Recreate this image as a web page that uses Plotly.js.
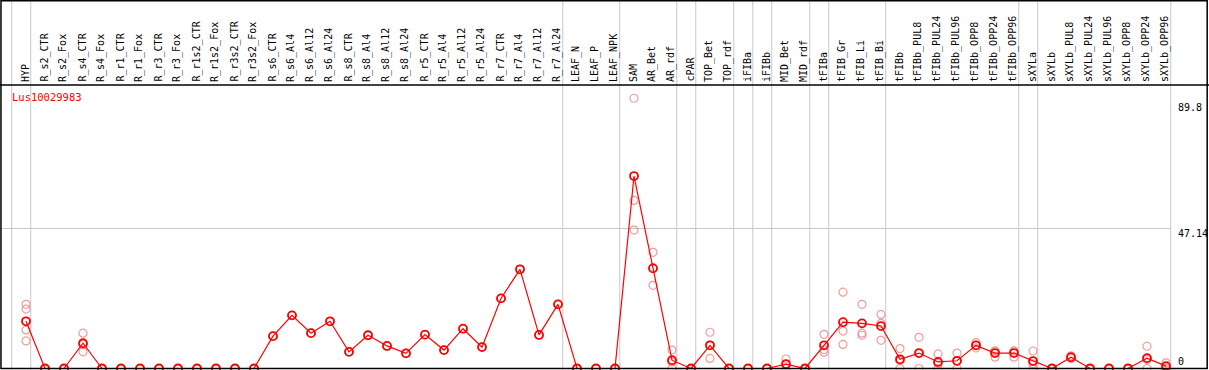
<!DOCTYPE html>
<html><head><meta charset="utf-8">
<script src="https://cdn.plot.ly/plotly-3.0.1.min.js"></script>
<style>html,body{margin:0;padding:0;background:#fff}#chart{width:1209px;height:370px}</style>
</head><body><div id="chart"></div>
<script>
var categories = ["HYP","R_s2_CTR","R_s2_Fox","R_s4_CTR","R_s4_Fox","R_r1_CTR","R_r1_Fox","R_r3_CTR","R_r3_Fox","R_r1s2_CTR","R_r1s2_Fox","R_r3s2_CTR","R_r3s2_Fox","R_s6_CTR","R_s6_Al4","R_s6_Al12","R_s6_Al24","R_s8_CTR","R_s8_Al4","R_s8_Al12","R_s8_Al24","R_r5_CTR","R_r5_Al4","R_r5_Al12","R_r5_Al24","R_r7_CTR","R_r7_Al4","R_r7_Al12","R_r7_Al24","LEAF_N","LEAF_P","LEAF_NPK","SAM","AR_Bet","AR_rdf","cPAR","TOP_Bet","TOP_rdf","iFIBa","iFIBb","MID_Bet","MID_rdf","tFIBa","tFIB_Gr","tFIB_Li","tFIB_Bi","tFIBb","tFIBb_PUL8","tFIBb_PUL24","tFIBb_PUL96","tFIBb_OPP8","tFIBb_OPP24","tFIBb_OPP96","sXYLa","sXYLb","sXYLb_PUL8","sXYLb_PUL24","sXYLb_PUL96","sXYLb_OPP8","sXYLb_OPP24","sXYLb_OPP96"];
var groupSizes = [1,28,3,3,1,2,1,1,2,1,3,7,1,7];
var meanValues = [15.9,0,0,8.5,0,0,0,0,0,0,0,0,0,10.9,17.9,11.9,15.9,5.6,11.2,7.6,5.1,11.4,6.2,13.4,7.2,23.6,33.4,11.3,21.6,0,0,0,64.8,33.7,2.8,0,7.8,0,0,0,1.5,0,7.8,15.6,15.2,14.3,3.1,5.2,2.2,2.6,7.8,5.2,5.2,2.5,0,3.8,0,0,0,3.5,0.8];
var rep1 = [21.6,0,0,11.9,0,0,0,0,0,0,0,0,0,10.9,17.9,11.9,15.9,5.6,11.2,7.6,5.1,11.4,6.2,13.4,7.2,23.6,33.4,11.3,21.6,0,0,0,91.0,39.1,6.2,0,12.2,0,0,0,3.2,0,11.5,25.7,21.6,18.2,6.7,10.5,4.9,5.2,8.7,5.9,5.9,5.9,0,4.3,0,0,0,7.5,1.9];
var rep2 = [20.0,0,0,5.6,0,0,0,0,0,0,0,0,0,null,null,null,null,null,null,null,null,null,null,null,null,null,null,null,null,0,0,0,56.6,28.0,0,0,3.4,0,0,0,0,0,5.5,12.6,11.9,15.2,0,0,0,0,6.9,3.8,3.8,0,0,3.4,0,0,0,0,0];
var rep3 = [13.0,0,0,8.0,0,0,0,0,0,0,0,0,0,null,null,null,null,null,null,null,null,null,null,null,null,null,null,null,null,0,0,0,46.6,34.0,2.2,0,7.8,0,0,0,1.3,0,6.4,8.1,11.2,9.5,2.6,5.1,1.7,2.6,7.8,5.9,5.9,1.6,0,3.7,0,0,0,3.0,0.5];
var rep4 = [9.3];
var yTickValues = [0, 47.14, 89.8];
var geneName = "Lus10029983";

var W = 1209, H = 370;
var xs = categories.map(function(c,i){return i;});
var pxPerX = 19, x0px = 26;
var xMin = -x0px/pxPerX, xMax = (W - x0px)/pxPerX;
var pxPerY = 2.97, y0px = 368.5;
var yMin = -(H - y0px)/pxPerY, yMax = y0px/pxPerY;
var headerY = (H - 85)/H;

var repX = [], repY = [];
[rep1,rep2,rep3,rep4].forEach(function(arr){
  arr.forEach(function(v,i){ if(v!==null && v!==undefined){ repX.push(i); repY.push(v);} });
});

var traces = [
  {x: repX, y: repY, type:'scatter', mode:'markers', hoverinfo:'skip',
   marker:{symbol:'circle-open', size:8, color:'rgba(235,140,140,0.85)', line:{width:1.2, color:'rgba(235,140,140,0.85)'}}},
  {x: xs, y: meanValues, type:'scatter', mode:'lines+markers', hoverinfo:'skip',
   line:{color:'#ff0000', width:1.2},
   marker:{symbol:'circle-open', size:8, color:'#ff0000', line:{width:1.8, color:'#ff0000'}}}
];

var shapes = [];
var bounds = [-1], acc = -1;
groupSizes.forEach(function(g){ acc += g; bounds.push(acc); });
bounds.forEach(function(b){
  shapes.push({type:'line', xref:'x', yref:'paper', x0:b+0.25, x1:b+0.25, y0:0, y1:1, line:{color:'#c8c8c8', width:1}, layer:'below'});
});
shapes.push({type:'line', xref:'x', yref:'y', x0:xMin, x1:categories.length-1+0.25, y0:yTickValues[1], y1:yTickValues[1], line:{color:'#c8c8c8', width:1}, layer:'below'});
shapes.push({type:'line', xref:'paper', yref:'paper', x0:0, x1:1, y0:headerY, y1:headerY, line:{color:'#000', width:1.5}});
shapes.push({type:'rect', xref:'paper', yref:'paper', x0:0.0008, x1:0.9985, y0:0.004, y1:0.998, line:{color:'#000', width:1.5}});

var annotations = categories.map(function(c,i){
  return {x:i, y:(H-84)/H, xref:'x', yref:'paper', text:c, showarrow:false, textangle:-90,
    xanchor:'center', yanchor:'bottom', xshift:-1,
    font:{family:'DejaVu Sans Mono, monospace', size:10, color:'#000'}};
});
annotations.push({x:10/W, y:(H-97)/H, xref:'paper', yref:'paper', text:geneName, showarrow:false,
  xanchor:'left', yanchor:'middle', font:{family:'DejaVu Sans Mono, monospace', size:10.5, color:'#ff0000'}});
annotations.push({x:1176/W, y:yTickValues[2], xref:'paper', yref:'y', text:String(yTickValues[2]), showarrow:false,
  xanchor:'left', yanchor:'top', yshift:2, font:{family:'DejaVu Sans Mono, monospace', size:10, color:'#000'}});
annotations.push({x:1176/W, y:yTickValues[1], xref:'paper', yref:'y', text:String(yTickValues[1]), showarrow:false,
  xanchor:'left', yanchor:'top', yshift:2, font:{family:'DejaVu Sans Mono, monospace', size:10, color:'#000'}});
annotations.push({x:1176/W, y:yTickValues[0], xref:'paper', yref:'y', text:String(yTickValues[0]), showarrow:false,
  xanchor:'left', yanchor:'bottom', yshift:0, font:{family:'DejaVu Sans Mono, monospace', size:10, color:'#000'}});

var layout = {
  width:W, height:H, margin:{l:0,r:0,t:0,b:0}, showlegend:false, hovermode:false,
  paper_bgcolor:'#fff', plot_bgcolor:'#fff',
  xaxis:{range:[xMin,xMax], showgrid:false, zeroline:false, showticklabels:false, showline:false, fixedrange:true},
  yaxis:{range:[yMin,yMax], showgrid:false, zeroline:false, showticklabels:false, showline:false, fixedrange:true},
  shapes:shapes, annotations:annotations
};
Plotly.newPlot('chart', traces, layout, {staticPlot:true, displayModeBar:false});
</script></body></html>
